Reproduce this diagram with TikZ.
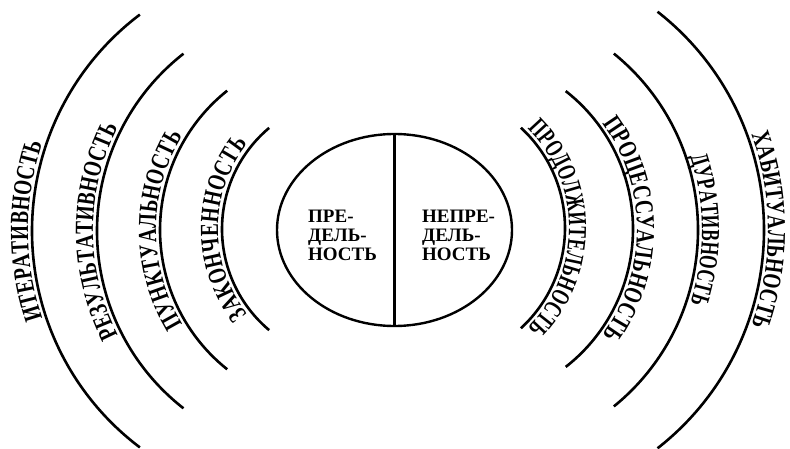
\documentclass[tikz,border=0pt]{standalone}
\usepackage{fontspec}
\setmainfont{Liberation Serif}
\newfontfamily\arcfont[FakeStretch=0.74]{Liberation Serif}
\newfontfamily\arcnarrow[FakeStretch=0.665]{Liberation Serif}
\usepackage{tikz}
\usetikzlibrary{shapes.geometric,decorations.text}

\begin{document}
\begin{tikzpicture}[
    x=1pt,
    y=-1pt,
    ring/.style={line width=2.6pt},
    core text/.style={anchor=west, align=left, inner sep=0pt,
      font=\bfseries\fontsize{19}{19}\selectfont}
]
\useasboundingbox (0,0) rectangle (790,449);

% Centre
\node[draw, ellipse, line width=2.4pt, minimum width=235, minimum height=192] (core) at (394.5,230) {};
\draw[line width=2.8pt] (core.north) -- (core.south);
\node[core text] (limit) at (308,235) {ПРЕ-\\ДЕЛЬ-\\НОСТЬ};
\node[core text] (nonlimit) at (422,235) {НЕПРЕ-\\ДЕЛЬ-\\НОСТЬ};

% Left arcs
\foreach \cx/\cy/\r/\a/\fnt/\txt in {354/229/132/50/\arcfont/ЗАКОНЧЕННОСТЬ,
    338/230/178/51.5/\arcfont/ПУНКТУАЛЬНОСТЬ,
    322/231/225/52/\arcfont/РЕЗУЛЬТАТИВНОСТЬ,
    303/231/271/53/\arcfont/ИТЕРАТИВНОСТЬ} {
  \draw[ring, postaction={decorate, decoration={text along path, raise=4pt, text align=center,
      text/.expanded={|\expandafter\noexpand\fnt\noexpand\bfseries\noexpand\fontsize{26}{26}\noexpand\selectfont|\txt}}}]
    ({\cx+\r*cos(180-\a)},{\cy+\r*sin(180-\a)}) arc[start angle=180-\a, end angle=180+\a, radius=\r];
}

% Right arcs
\foreach \cx/\cy/\r/\a/\fnt/\txt in {429/228/136/47.5/\arcnarrow/ПРОДОЛЖИТЕЛЬНОСТЬ,
    458/229/175/52/\arcfont/ПРОЦЕССУАЛЬНОСТЬ,
    471/230/227/51/\arcnarrow/ДУРАТИВНОСТЬ,
    487/230/277/52/\arcfont/ХАБИТУАЛЬНОСТЬ} {
  \draw[ring, postaction={decorate, decoration={text along path, raise=4pt, text align=center,
      text/.expanded={|\expandafter\noexpand\fnt\noexpand\bfseries\noexpand\fontsize{26}{26}\noexpand\selectfont|\txt}}}]
    ({\cx+\r*cos(-\a)},{\cy+\r*sin(-\a)}) arc[start angle=-\a, end angle=\a, radius=\r];
}
\end{tikzpicture}
\end{document}
